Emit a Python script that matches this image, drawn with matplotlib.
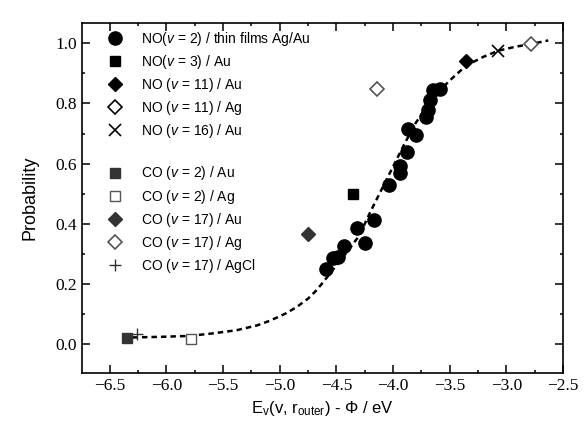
import matplotlib
matplotlib.use("Agg")
import matplotlib.pyplot as plt
from matplotlib.lines import Line2D

plt.rcParams['font.family'] = ['Liberation Sans', 'DejaVu Sans']
plt.rcParams['mathtext.fontset'] = 'custom'
plt.rcParams['mathtext.rm'] = 'Liberation Sans'
plt.rcParams['mathtext.it'] = 'Liberation Sans:italic'

# NO(v=2) on thin films
no2_x = [-4.59, -4.53, -4.49, -4.43, -4.32, -4.25, -4.17, -4.04, -3.94, -3.935,
         -3.88, -3.87, -3.80, -3.71, -3.69, -3.67, -3.65, -3.59]
no2_y = [0.249, 0.286, 0.291, 0.327, 0.385, 0.338, 0.413, 0.529, 0.568, 0.592,
         0.638, 0.714, 0.695, 0.754, 0.778, 0.81, 0.845, 0.847]
no3_x, no3_y = [-4.35], [0.50]
no11au_x, no11au_y = [-3.36], [0.942]
no11ag_x, no11ag_y = [-4.14], [0.847]
no16_x, no16_y = [-3.07], [0.975]
co2au_x, co2au_y = [-6.35], [0.020]
co2ag_x, co2ag_y = [-5.78], [0.017]
co17au_x, co17au_y = [-4.75], [0.366]
co17ag_x, co17ag_y = [-2.78], [0.998]
co17agcl_x, co17agcl_y = [-6.26], [0.034]

# fitted curve
fit_x = [-6.30, -6.05, -5.80, -5.60, -5.38, -5.20, -5.09, -4.95, -4.85, -4.75,
         -4.68, -4.62, -4.50, -4.40, -4.30, -4.20, -4.10, -4.00, -3.90, -3.80,
         -3.70, -3.60, -3.50, -3.40, -3.30, -3.20, -3.07, -2.92, -2.77, -2.63]
fit_y = [0.023, 0.025, 0.028, 0.036, 0.047, 0.063, 0.078, 0.102, 0.124, 0.152,
         0.178, 0.205, 0.262, 0.31, 0.36, 0.44, 0.515, 0.59, 0.665, 0.735,
         0.79, 0.837, 0.876, 0.91, 0.936, 0.955, 0.975, 0.988, 0.998, 1.009]

grey = '#333333'
edge = '#555555'

fig = plt.figure(figsize=(5.88, 4.30), dpi=100)
ax = fig.add_axes([0.1395, 0.1326, 0.818, 0.814])

ax.plot(fit_x, fit_y, color='black', lw=1.8, ls=(0, (2.2, 1.6)), zorder=1)

ax.plot(no2_x, no2_y, 'o', color='black', ms=9.5, zorder=3)
ax.plot(no3_x, no3_y, 's', color='black', ms=7.5, zorder=3)
ax.plot(no11au_x, no11au_y, 'D', color='black', ms=7.5, zorder=3)
ax.plot(no11ag_x, no11ag_y, 'D', mfc='white', mec=edge, mew=1.2, ms=7.5, zorder=3)
ax.plot(no16_x, no16_y, 'x', color='black', mew=1.2, ms=9, zorder=3)
ax.plot(co2au_x, co2au_y, 's', color=grey, ms=7.5, zorder=3)
ax.plot(co2ag_x, co2ag_y, 's', mfc='white', mec=edge, mew=1.0, ms=7, zorder=3)
ax.plot(co17au_x, co17au_y, 'D', color=grey, ms=7.5, zorder=3)
ax.plot(co17ag_x, co17ag_y, 'D', mfc='white', mec=edge, mew=1.2, ms=7.5, zorder=3)
ax.plot(co17agcl_x, co17agcl_y, '+', color=grey, mew=1.0, ms=9, zorder=3)

ax.set_xlim(-6.745, -2.5)
ax.set_ylim(-0.095, 1.067)
ax.set_xticks([-6.5, -6.0, -5.5, -5.0, -4.5, -4.0, -3.5, -3.0, -2.5])
ax.set_xticks([-6.25, -5.75, -5.25, -4.75, -4.25, -3.75, -3.25, -2.75], minor=True)
ax.set_yticks([0.0, 0.2, 0.4, 0.6, 0.8, 1.0])
ax.set_yticks([0.1, 0.3, 0.5, 0.7, 0.9], minor=True)
ax.tick_params(which='both', direction='in', top=True, right=True, width=1.1)
ax.tick_params(which='major', length=5.5)
ax.tick_params(which='minor', length=2.5)
for lab in ax.get_xticklabels() + ax.get_yticklabels():
    lab.set_family('Liberation Serif')
    lab.set_fontsize(12.5)
for sp in ax.spines.values():
    sp.set_linewidth(1.2)

ax.set_ylabel('Probability', fontsize=13, labelpad=12)
ax.set_xlabel(r'E$_\mathrm{v}$(v, r$_\mathrm{outer}$) - Φ / eV', fontsize=12, labelpad=4)

def h(marker, **kw):
    return Line2D([], [], ls='none', marker=marker, **kw)

handles = [
    h('o', color='black', ms=9.5),
    h('s', color='black', ms=7.5),
    h('D', color='black', ms=7.5),
    h('D', mfc='white', mec='black', mew=1.2, ms=7.5),
    h('x', color='black', mew=1.2, ms=9),
    Line2D([], [], ls='none'),
    h('s', color=grey, ms=7),
    h('s', mfc='white', mec=edge, mew=1.0, ms=7),
    h('D', color=grey, ms=7.5),
    h('D', mfc='white', mec=edge, mew=1.2, ms=7.5),
    h('+', color=grey, mew=1.0, ms=9),
]
labels = [
    r'NO($v$ = 2) / thin films Ag/Au',
    r'NO($v$ = 3) / Au',
    r'NO ($v$ = 11) / Au',
    r'NO ($v$ = 11) / Ag',
    r'NO ($v$ = 16) / Au',
    ' ',
    r'CO ($v$ = 2) / Au',
    r'CO ($v$ = 2) / Ag',
    r'CO ($v$ = 17) / Au',
    r'CO ($v$ = 17) / Ag',
    r'CO ($v$ = 17) / AgCl',
]
ax.legend(handles, labels, loc='upper left', frameon=False, fontsize=10,
          bbox_to_anchor=(0.045, 0.989), labelspacing=0.37, handletextpad=1.3,
          handlelength=1.2, borderaxespad=0.0, borderpad=0.2)

fig.savefig('out.png', dpi=100)
